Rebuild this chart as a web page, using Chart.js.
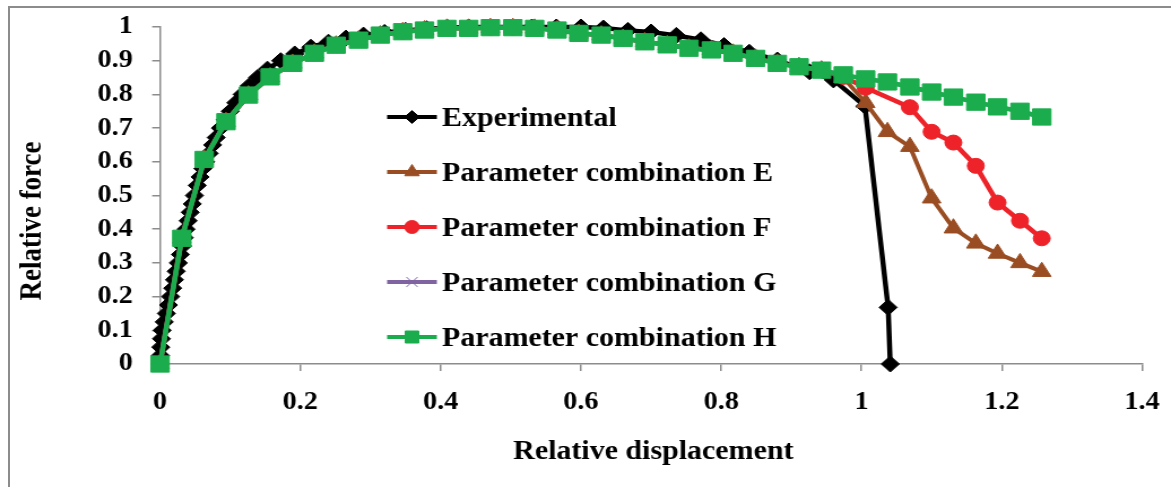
<!DOCTYPE html>
<html>
<head>
<meta charset="utf-8">
<script src="https://cdn.jsdelivr.net/npm/chart.js@4.4.1/dist/chart.umd.min.js"></script>
<style>
  html, body { margin: 0; padding: 0; background: #fff; }
  body { width: 1171px; height: 487px; overflow: hidden; position: relative; }
  #frame { position: absolute; left: 8px; top: 6px; width: 1300px; height: 600px;
           border-left: 2px solid #8c8c8c; border-top: 2px solid #8c8c8c; }
  #wrap { position: absolute; left: 0; top: 0; width: 1036px; height: 487px;
          transform: scaleX(1.1303); transform-origin: 0 0; }
</style>
</head>
<body>
<div id="frame"></div>
<div id="wrap"><canvas id="chart" width="1036" height="487"></canvas></div>
<script>
// tick labels
const xTicks = [0, 0.2, 0.4, 0.6, 0.8, 1, 1.2, 1.4];
const yTicks = [0, 0.1, 0.2, 0.3, 0.4, 0.5, 0.6, 0.7, 0.8, 0.9, 1];

const xTitle = 'Relative displacement';
const yTitle = 'Relative force';

// experimental curve
const expX = [0, 0.0005, 0.001, 0.002, 0.003, 0.006, 0.009, 0.012, 0.015, 0.018, 0.0205, 0.023, 0.026,
  0.029, 0.032, 0.0345, 0.037, 0.040, 0.043, 0.046, 0.049, 0.053, 0.057, 0.061, 0.065, 0.070, 0.075,
  0.080, 0.086, 0.093, 0.100, 0.108, 0.117, 0.127, 0.139, 0.153, 0.172, 0.192, 0.215, 0.240, 0.265,
  0.290, 0.320, 0.350, 0.380, 0.410, 0.440, 0.470, 0.500, 0.530, 0.565, 0.600, 0.632, 0.667, 0.700,
  0.736, 0.771, 0.804, 0.840, 0.880, 0.926, 0.960, 1.005, 1.038, 1.041];
const expY = [0, 0.025, 0.05, 0.075, 0.1, 0.125, 0.15, 0.175, 0.2, 0.225, 0.25, 0.275, 0.3,
  0.325, 0.35, 0.375, 0.4, 0.425, 0.45, 0.475, 0.5, 0.53, 0.555, 0.58, 0.6, 0.625, 0.65,
  0.672, 0.7, 0.725, 0.75, 0.775, 0.8, 0.825, 0.85, 0.875, 0.9, 0.92, 0.94, 0.955, 0.967,
  0.976, 0.984, 0.99, 0.995, 0.998, 1, 1, 1, 1, 1, 1, 0.997, 0.99, 0.985,
  0.975, 0.962, 0.945, 0.925, 0.902, 0.867, 0.843, 0.765, 0.168, 0];

// simulations (parameter combinations E-H), same displacement steps
const simX = [0, 0.031, 0.063, 0.094, 0.126, 0.157, 0.189, 0.22, 0.251, 0.283, 0.314, 0.346, 0.377,
  0.409, 0.44, 0.471, 0.503, 0.534, 0.566, 0.597, 0.629, 0.66, 0.691, 0.723, 0.754, 0.786, 0.817,
  0.849, 0.88, 0.911, 0.943, 0.974, 1.006, 1.037, 1.069, 1.1, 1.131, 1.163, 1.194, 1.226, 1.257];
const eY = [0, 0.373, 0.607, 0.719, 0.798, 0.852, 0.892, 0.922, 0.946, 0.961, 0.976, 0.986, 0.991,
  0.996, 0.996, 0.998, 0.998, 0.996, 0.991, 0.981, 0.976, 0.966, 0.956, 0.947, 0.937, 0.932, 0.922,
  0.907, 0.892, 0.882, 0.872, 0.85, 0.775, 0.689, 0.645, 0.492, 0.403, 0.358, 0.328, 0.300, 0.274];
const fY = [0, 0.373, 0.607, 0.719, 0.798, 0.852, 0.892, 0.922, 0.946, 0.961, 0.976, 0.986, 0.991,
  0.996, 0.996, 0.998, 0.998, 0.996, 0.991, 0.981, 0.976, 0.966, 0.956, 0.947, 0.937, 0.932, 0.922,
  0.907, 0.892, 0.882, 0.872, 0.852, 0.82, null, 0.762, 0.689, 0.657, 0.588, 0.479, 0.425, 0.373];
const gY = [0, 0.373, 0.607, 0.719, 0.798, 0.852, 0.892, 0.922, 0.946, 0.961, 0.976, 0.986, 0.991,
  0.996, 0.996, 0.998, 0.998, 0.996, 0.991, 0.981, 0.976, 0.966, 0.956, 0.947, 0.937, 0.932, 0.922,
  0.907, 0.892, 0.882, 0.872, 0.858, 0.846, 0.837, 0.822, 0.807, 0.792, 0.777, 0.763, 0.75, 0.733];
const hY = [0, 0.373, 0.607, 0.719, 0.798, 0.852, 0.892, 0.922, 0.946, 0.961, 0.976, 0.986, 0.991,
  0.996, 0.996, 0.998, 0.998, 0.996, 0.991, 0.981, 0.976, 0.966, 0.956, 0.947, 0.937, 0.932, 0.922,
  0.907, 0.892, 0.882, 0.872, 0.858, 0.846, 0.837, 0.822, 0.807, 0.792, 0.777, 0.763, 0.75, 0.733];

const serif = '"Liberation Serif", "Times New Roman", serif';

function toPoints(xs, ys) {
  return xs.map((x, i) => ({ x: x, y: ys[i] }));
}

// legend drawn inside the plot, plus axis titles
const overlay = {
  id: 'overlay',
  afterDraw(chart) {
    const ctx = chart.ctx;
    const area = chart.chartArea;
    ctx.save();
    ctx.fillStyle = '#000';
    ctx.font = 'bold 26.5px ' + serif;
    ctx.textAlign = 'center';
    ctx.textBaseline = 'middle';
    ctx.fillText(xTitle, (area.left + area.right) / 2 + 2, 452);
    ctx.translate(29.5, 221);
    ctx.rotate(-Math.PI / 2);
    ctx.font = 'bold 27px ' + serif;
    ctx.fillText(yTitle, 0, 0);
    ctx.restore();

    const legendSize = [6.5, 7.5, 6.5, 7, 8.5];
    ctx.save();
    chart.data.datasets.forEach((ds, i) => {
      const y = 117 + i * 55;
      ctx.strokeStyle = ds.borderColor;
      ctx.lineWidth = 4;
      ctx.beginPath();
      ctx.moveTo(342.5, y);
      ctx.lineTo(386.5, y);
      ctx.stroke();
      ctx.fillStyle = ds.backgroundColor;
      ctx.lineWidth = 1;
      if (Chart.helpers && Chart.helpers.drawPoint) {
        Chart.helpers.drawPoint(ctx, { pointStyle: ds.pointStyle, radius: legendSize[i], rotation: 0, borderWidth: 1 }, 364.5, y);
      }
      ctx.fillStyle = '#000';
      ctx.font = 'bold 26.5px ' + serif;
      ctx.textAlign = 'left';
      ctx.textBaseline = 'alphabetic';
      ctx.fillText(ds.label, 391, y + 9);
    });
    ctx.restore();
  }
};

const tickFont = { family: serif, weight: 'bold', size: 25 };

new Chart(document.getElementById('chart'), {
  type: 'line',
  data: {
    datasets: [
      { label: 'Experimental', data: toPoints(expX, expY), borderColor: '#000', backgroundColor: '#000',
        borderWidth: 4.5, pointStyle: 'rectRot', pointRadius: 8, pointBorderWidth: 1, order: 4 },
      { label: 'Parameter combination E', data: toPoints(simX, eY), borderColor: '#9a4d22', backgroundColor: '#9a4d22',
        borderWidth: 4, pointStyle: 'triangle', pointRadius: 9.5, pointBorderWidth: 1, order: 3 },
      { label: 'Parameter combination F', data: toPoints(simX, fY), borderColor: '#ee2229', backgroundColor: '#ee2229',
        borderWidth: 4.5, pointStyle: 'circle', pointRadius: 7.5, pointBorderWidth: 1, order: 2, spanGaps: true },
      { label: 'Parameter combination G', data: toPoints(simX, gY), borderColor: '#8064a2', backgroundColor: '#8064a2',
        borderWidth: 4, pointStyle: 'crossRot', pointRadius: 8, pointBorderWidth: 1, order: 1 },
      { label: 'Parameter combination H', data: toPoints(simX, hY), borderColor: '#1bad4d', backgroundColor: '#1bad4d',
        borderWidth: 4.5, pointStyle: 'rect', pointRadius: 11.5, pointBorderWidth: 1, order: 0 }
    ]
  },
  options: {
    responsive: false,
    animation: false,
    devicePixelRatio: 1,
    layout: { padding: { left: 0, right: 25.6, top: 27, bottom: 0 } },
    elements: { line: { tension: 0 } },
    datasets: { line: { clip: false } },
    plugins: { legend: { display: false }, tooltip: { enabled: false } },
    scales: {
      x: {
        type: 'linear', min: 0, max: 1.4,
        afterBuildTicks: (s) => { s.ticks = xTicks.map(v => ({ value: v })); },
        afterFit: (s) => { s.height = 123; s.paddingLeft = 0; s.paddingRight = 0; },
        border: { color: '#8c8c8c', width: 1.5 },
        grid: { drawOnChartArea: false, tickLength: 7, color: '#8c8c8c', lineWidth: 1.5 },
        ticks: { padding: 17, color: '#000', font: tickFont, maxRotation: 0, callback: (v) => String(v) }
      },
      y: {
        min: 0, max: 1,
        afterBuildTicks: (s) => { s.ticks = yTicks.map(v => ({ value: v })); },
        afterFit: (s) => { s.width = 141.6; s.paddingTop = 0; s.paddingBottom = 0; },
        border: { color: '#8c8c8c', width: 1.5 },
        grid: { drawOnChartArea: false, tickLength: 7, color: '#8c8c8c', lineWidth: 1.5 },
        ticks: { padding: 17, color: '#000', font: tickFont, callback: (v) => String(v) }
      }
    }
  },
  plugins: [overlay]
});
</script>
</body>
</html>
